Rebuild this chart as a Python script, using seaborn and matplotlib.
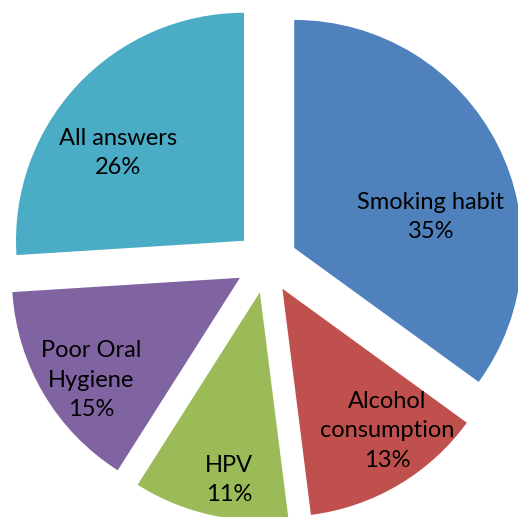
import matplotlib
matplotlib.use("Agg")
import matplotlib.pyplot as plt
import seaborn as sns

categories = ["Smoking habit", "Alcohol\nconsumption", "HPV", "Poor Oral\nHygiene", "All answers"]
values = [35, 13, 11, 15, 26]
colors = ["#4F81BD", "#C0504D", "#9BBB59", "#8064A2", "#4BACC6"]

# label positions (in pie radius units, from the pie centre)
label_pos = [(0.721, 0.197), (0.528, -0.741), (-0.165, -0.956), (-0.770, -0.518), (-0.652, 0.478)]

sns.set_theme(style="white")
plt.rcParams["font.family"] = ["Lato", "DejaVu Sans"]

fig = plt.figure(figsize=(5.18, 5.17), dpi=100)
ax = fig.add_axes([0, 0, 1, 1])

r_px = 228.0
cx, cy = 266.6, 262.0
explode = [31.0 / r_px] * len(values)

wedges, texts = ax.pie(values, colors=sns.color_palette(colors), explode=explode,
                       startangle=90, counterclock=False, radius=1,
                       wedgeprops=dict(linewidth=0),
                       labels=[f"{c}\n{v}%" for c, v in zip(categories, values)],
                       textprops=dict(fontsize=17, color="black", ha="center", va="center",
                                      linespacing=1.5))
for t, (x, y) in zip(texts, label_pos):
    t.set_position((x, y))
    t.set_horizontalalignment("center")
    t.set_verticalalignment("center")

ax.set_aspect("auto")
ax.set_xlim(-cx / r_px, (518 - cx) / r_px)
ax.set_ylim(-(517 - cy) / r_px, cy / r_px)
ax.axis("off")

fig.savefig("out.png", dpi=100)
